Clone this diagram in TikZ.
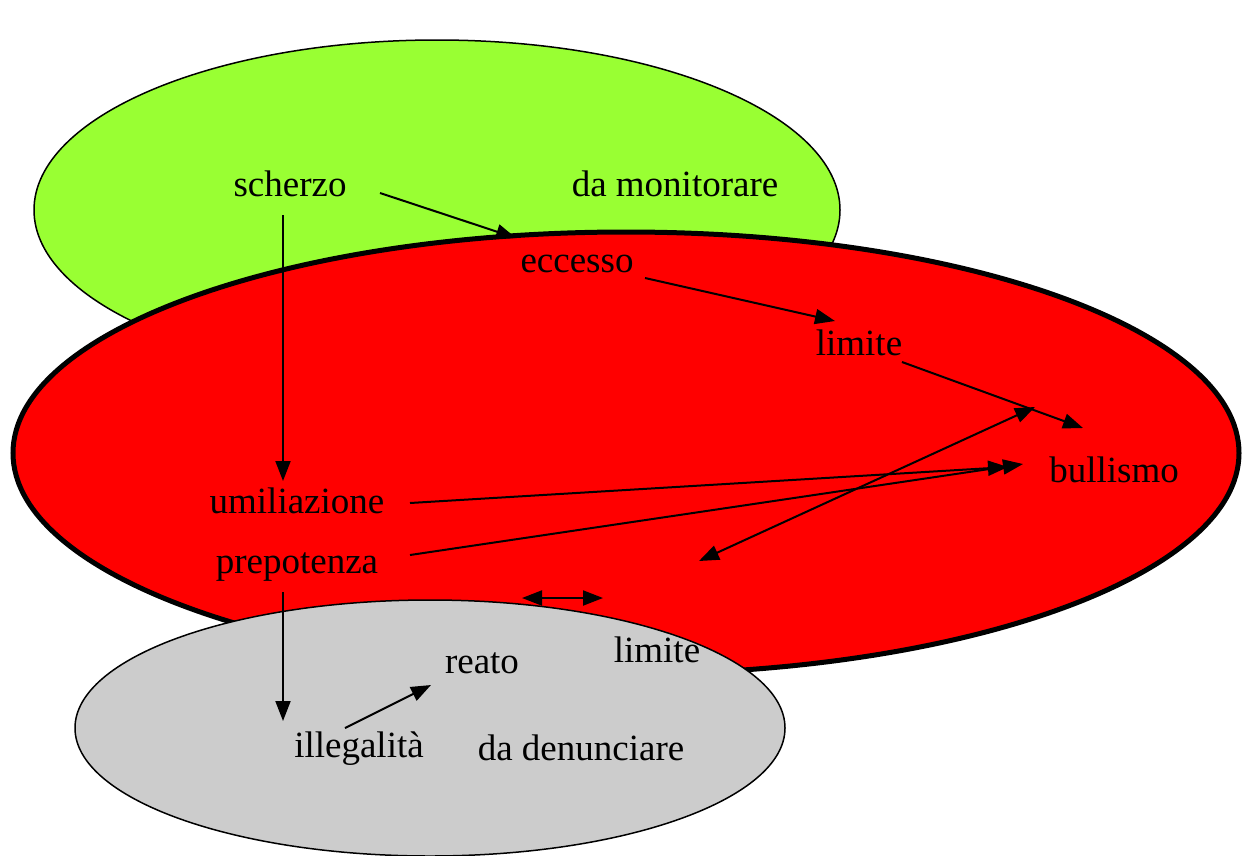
\documentclass[tikz,border=0pt]{standalone}
\usepackage{fontspec}
\setmainfont{Liberation Serif}
\usetikzlibrary{arrows.meta}
\definecolor{lgreen}{RGB}{153,255,51}
\definecolor{lred}{RGB}{255,0,0}
\definecolor{lgrey}{RGB}{204,204,204}
\begin{document}
\begin{tikzpicture}[x=1pt,y=-1pt,
  lbl/.style={anchor=base,inner sep=0pt,font=\fontsize{37}{44}\selectfont},
  conn/.style={line width=2pt,-{Triangle[length=20pt,width=15pt]}},
  conn2/.style={line width=2pt,{Triangle[length=20pt,width=15pt]}-{Triangle[length=20pt,width=15pt]}}]
\useasboundingbox (0,0) rectangle (1242,855);
\clip (0,0) rectangle (1242,855);
% regions
\path[fill=lgreen,draw=black,line width=1.5pt] (437,210) ellipse [x radius=403,y radius=170];
\path[fill=lred,draw=black,line width=5pt] (626,453) ellipse [x radius=613,y radius=221];
\path[fill=lgrey,draw=black,line width=1.5pt] (430,728) ellipse [x radius=355,y radius=128];
% labels
\node[lbl] (scherzo) at (290,196) {scherzo};
\node[lbl] (monit) at (675,196) {da monitorare};
\node[lbl] (eccesso) at (577,272) {eccesso};
\node[lbl] (limite1) at (859,355) {limite};
\node[lbl] (bullismo) at (1114,482) {bullismo};
\node[lbl] (umil) at (297,513) {umiliazione};
\node[lbl] (prep) at (297,573) {prepotenza};
\node[lbl] (limite2) at (657,662) {limite};
\node[lbl] (reato) at (482,673) {reato};
\node[lbl] (illeg) at (359,757) {illegalità};
\node[lbl] (denun) at (581,760) {da denunciare};
% connector end points
\coordinate (a1) at (380,193);
\coordinate (a2) at (516,238);
\coordinate (b1) at (283,215);
\coordinate (b2) at (283,481);
\coordinate (c1) at (645,278);
\coordinate (c2) at (835,321);
\coordinate (d1) at (902,362);
\coordinate (d2) at (1083,428);
\coordinate (e1) at (699,561);
\coordinate (e2) at (1035,407);
\coordinate (f1) at (410,503);
\coordinate (f2) at (1008,467);
\coordinate (g1) at (410,555);
\coordinate (g2) at (1023,464);
\coordinate (h1) at (283,592);
\coordinate (h2) at (283,721);
\coordinate (i1) at (522,598);
\coordinate (i2) at (603,598);
\coordinate (j1) at (345,728);
\coordinate (j2) at (431,685);
% connectors
\draw[conn] (a1) -- (a2);
\draw[conn] (b1) -- (b2);
\draw[conn] (c1) -- (c2);
\draw[conn] (d1) -- (d2);
\draw[conn2] (e1) -- (e2);
\draw[conn] (f1) -- (f2);
\draw[conn] (g1) -- (g2);
\draw[conn] (h1) -- (h2);
\draw[conn2] (i1) -- (i2);
\draw[conn] (j1) -- (j2);
\end{tikzpicture}
\end{document}
